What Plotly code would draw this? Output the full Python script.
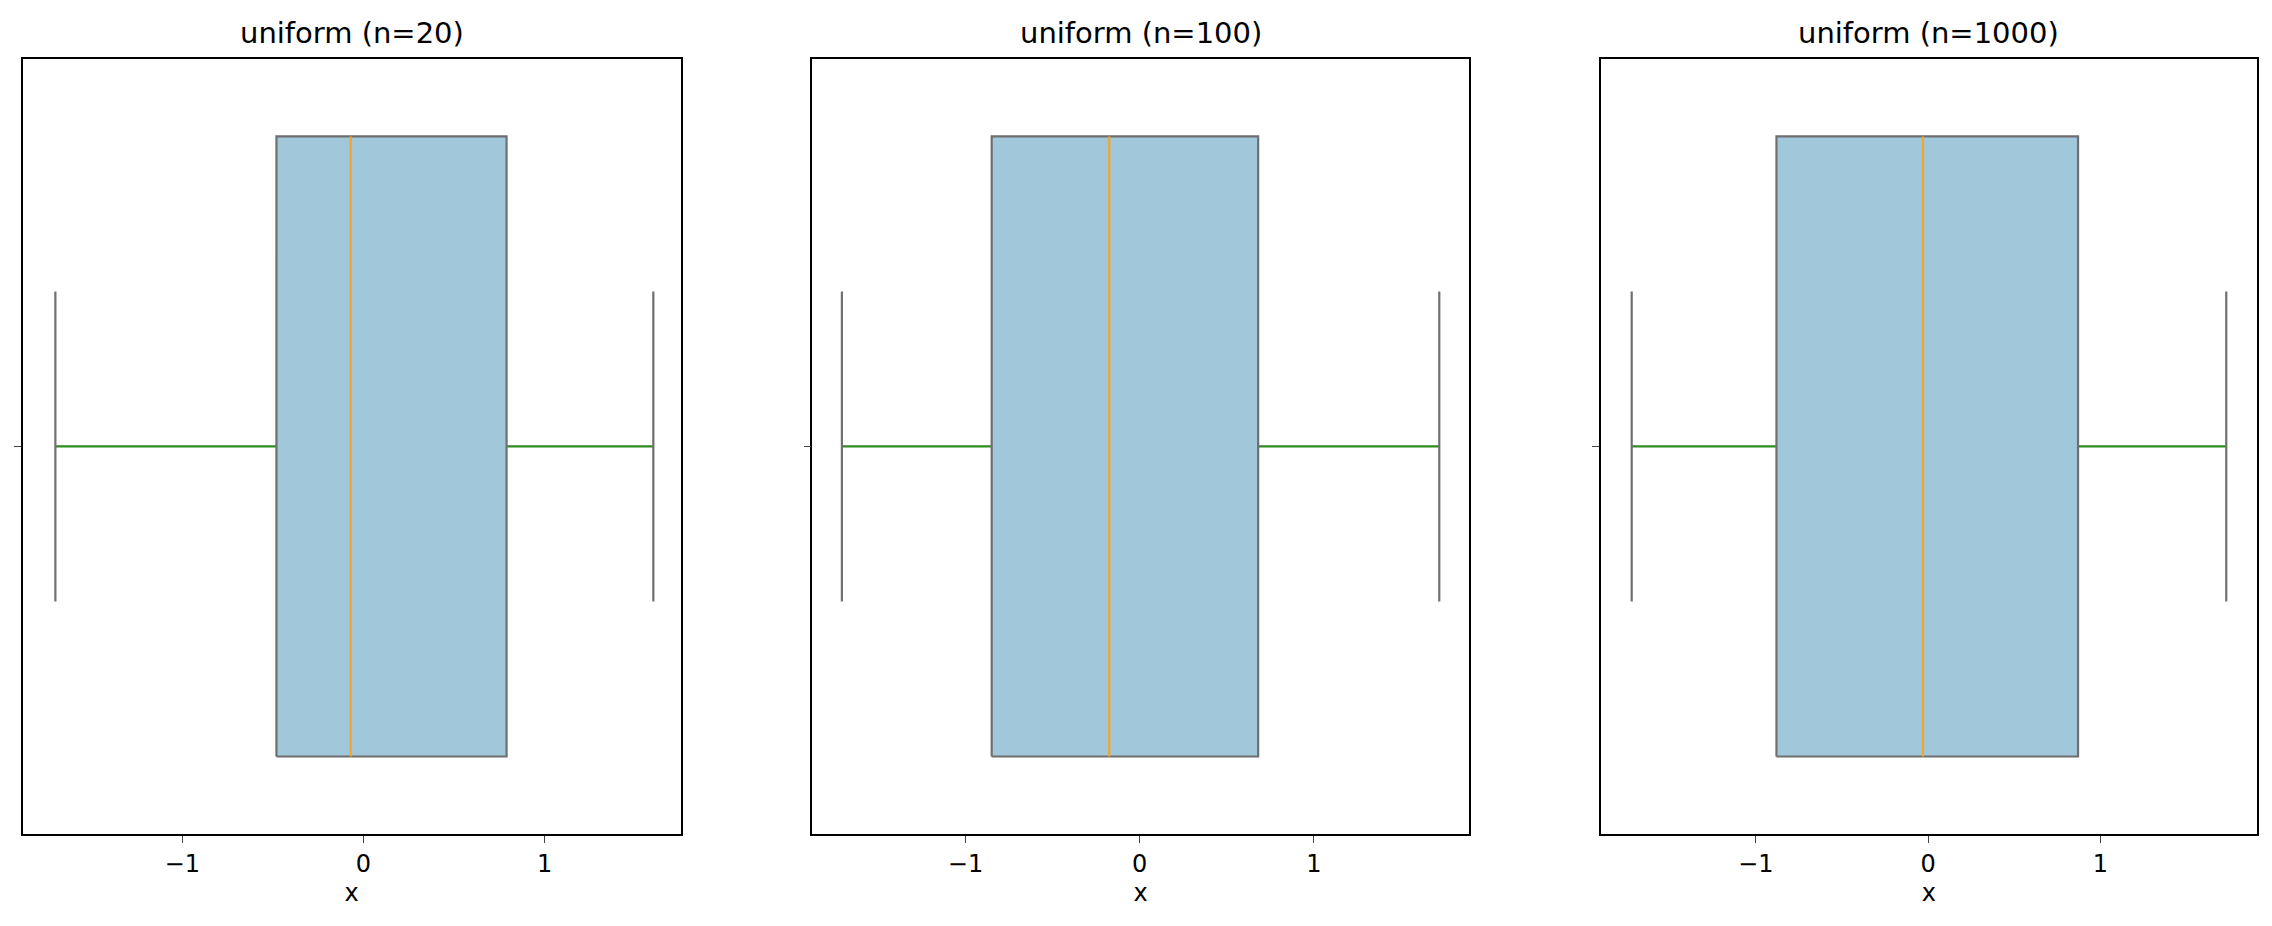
import plotly.graph_objects as go

titles = ["uniform (n=20)", "uniform (n=100)", "uniform (n=1000)"]
lower = [-1.70, -1.71, -1.72]
q1 = [-0.48, -0.85, -0.88]
median = [-0.07, -0.175, -0.03]
q3 = [0.79, 0.68, 0.87]
upper = [1.60, 1.72, 1.73]
xranges = [[-1.88, 1.75], [-1.88, 1.89], [-1.90, 1.91]]
xticks = [-1, 0, 1]
xticktext = ["\u22121", "0", "1"]

fig = go.Figure()
doms = [[0.0065, 0.296], [0.354, 0.643], [0.701, 0.990]]
H, C = 0.4, 0.2
for i in range(3):
    xa = "x" if i == 0 else f"x{i+1}"
    ya = "y" if i == 0 else f"y{i+1}"
    kw = dict(xaxis=xa, yaxis=ya, showlegend=False, hoverinfo="skip", mode="lines")
    fig.add_trace(go.Scatter(x=[lower[i], q1[i], None, q3[i], upper[i]], y=[0, 0, None, 0, 0],
                             line=dict(color="#2e8b1e", width=2.2), **kw))
    fig.add_trace(go.Scatter(x=[lower[i], lower[i], None, upper[i], upper[i]], y=[-C, C, None, -C, C],
                             line=dict(color="#6f6f6f", width=2.2), **kw))
    fig.add_trace(go.Scatter(x=[q1[i], q3[i], q3[i], q1[i], q1[i]], y=[-H, -H, H, H, -H],
                             fill="toself", fillcolor="#a1c7db", line=dict(color="#6f6f6f", width=2.2), **kw))
    fig.add_trace(go.Scatter(x=[median[i], median[i]], y=[-H, H],
                             line=dict(color="#f5a623", width=2.2), **kw))
    sfx = "" if i == 0 else str(i + 1)
    fig.layout["xaxis" + sfx] = dict(domain=doms[i], range=xranges[i], tickvals=xticks, ticktext=xticktext,
                                     ticks="outside", ticklen=7, showgrid=False, zeroline=False,
                                     showline=True, mirror=True, linecolor="black", linewidth=1.5,
                                     anchor=ya, title=dict(text="x", font=dict(size=24), standoff=8),
                                     tickfont=dict(size=24))
    fig.layout["yaxis" + sfx] = dict(domain=[0.108, 0.945], range=[-0.5, 0.5], tickvals=[0], ticktext=[""],
                                     ticks="outside", ticklen=7, showgrid=False, zeroline=False,
                                     showline=True, mirror=True, linecolor="black", linewidth=1.5,
                                     anchor=xa)
    fig.add_annotation(text=titles[i], xref="paper", yref="paper", x=(doms[i][0] + doms[i][1]) / 2,
                       y=0.953, xanchor="center", yanchor="bottom", showarrow=False,
                       font=dict(size=29, color="black"))

fig.update_layout(width=2272, height=926, margin=dict(l=0, r=0, t=0, b=0),
                  paper_bgcolor="white", plot_bgcolor="white",
                  font=dict(family="DejaVu Sans", color="black"))
fig.write_html("out.html")
